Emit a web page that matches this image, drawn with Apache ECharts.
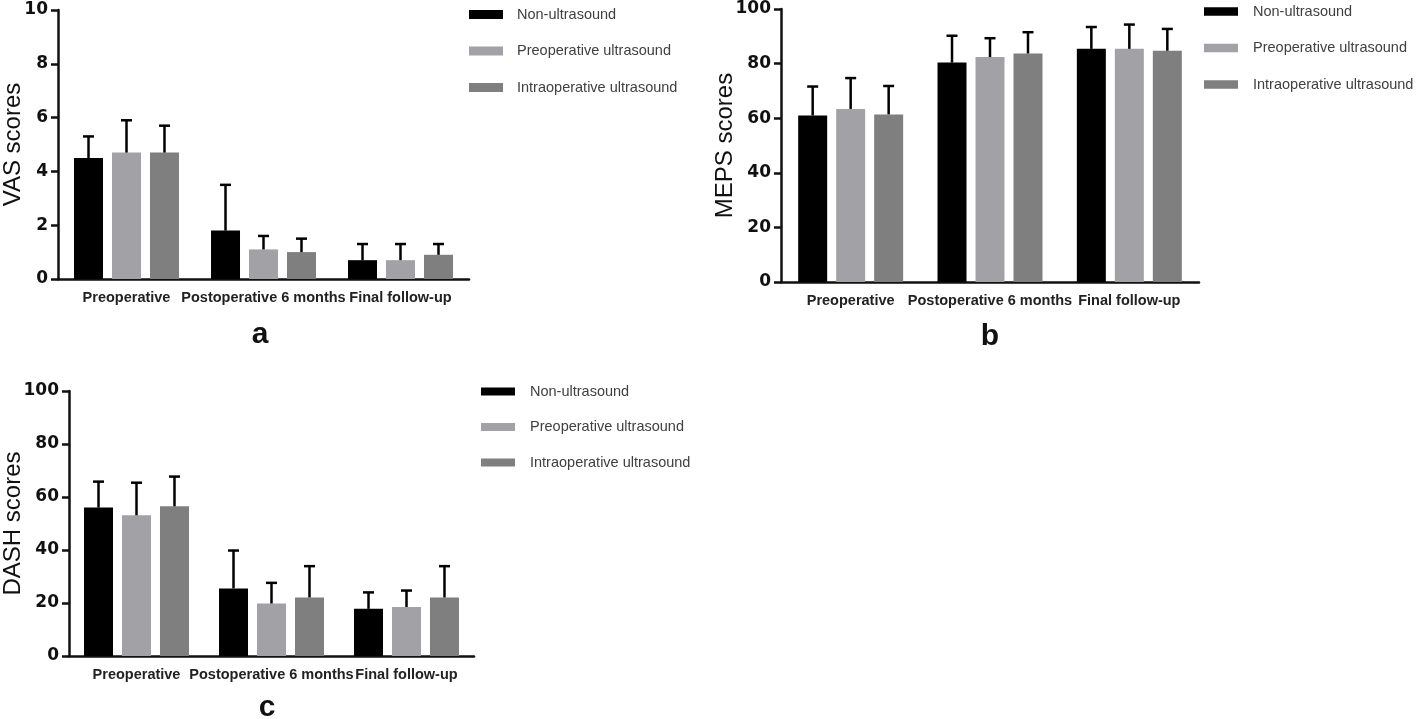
<!DOCTYPE html>
<html>
<head>
<meta charset="utf-8">
<script src="https://cdn.jsdelivr.net/npm/echarts@6/dist/echarts.min.js"></script>
<style>
html,body{margin:0;padding:0;background:#fff;}
#chart{width:1416px;height:719px;}
</style>
</head>
<body>
<div id="chart"></div>
<script>
// ---- data ----
const categories = ['Preoperative', 'Postoperative 6 months', 'Final follow-up'];
const groupNames = ['Non-ultrasound', 'Preoperative ultrasound', 'Intraoperative ultrasound'];

const vasNon = [4.5, 1.8, 0.7];
const vasPre = [4.7, 1.1, 0.7];
const vasIntra = [4.7, 1.0, 0.9];
const vasNonSD = [0.8, 1.7, 0.6];
const vasPreSD = [1.2, 0.5, 0.6];
const vasIntraSD = [1.0, 0.5, 0.4];

const mepsNon = [61.0, 80.4, 85.4];
const mepsPre = [63.4, 82.4, 85.4];
const mepsIntra = [61.4, 83.7, 84.7];
const mepsNonSD = [10.6, 9.8, 8.0];
const mepsPreSD = [11.3, 6.9, 8.9];
const mepsIntraSD = [10.4, 7.8, 8.0];

const dashNon = [56.0, 25.5, 17.8];
const dashPre = [53.1, 19.8, 18.5];
const dashIntra = [56.5, 22.1, 22.1];
const dashNonSD = [9.8, 14.3, 6.2];
const dashPreSD = [12.3, 7.8, 6.2];
const dashIntraSD = [11.2, 11.8, 11.8];

const vasTicks = [0, 2, 4, 6, 8, 10];
const mepsTicks = [0, 20, 40, 60, 80, 100];
const dashTicks = [0, 20, 40, 60, 80, 100];

// ---- styling ----
const colors = ['#000000', '#a2a2a6', '#7f7f7f'];
const BW = 29, GAP = 0.31;

const chart = echarts.init(document.getElementById('chart'));

function errRender(idx) {
  return function (params, api) {
    const cat = api.value(0), mean = api.value(1), sd = api.value(2);
    const base = api.coord([cat, mean]);
    const top = api.coord([cat, mean + sd]);
    const off = (idx - 1) * BW * (1 + GAP);
    const x = base[0] + off;
    const st = { stroke: '#000', lineWidth: 2.5 };
    return {
      type: 'group',
      children: [
        { type: 'line', shape: { x1: x, y1: base[1], x2: x, y2: top[1] }, style: st },
        { type: 'line', shape: { x1: x - 5.5, y1: top[1], x2: x + 5.5, y2: top[1] }, style: st }
      ]
    };
  };
}

const panels = [
  { means: [vasNon, vasPre, vasIntra], sds: [vasNonSD, vasPreSD, vasIntraSD], ticks: vasTicks, name: 'VAS scores', nameGap: 33 },
  { means: [mepsNon, mepsPre, mepsIntra], sds: [mepsNonSD, mepsPreSD, mepsIntraSD], ticks: mepsTicks, name: 'MEPS scores', nameGap: 44 },
  { means: [dashNon, dashPre, dashIntra], sds: [dashNonSD, dashPreSD, dashIntraSD], ticks: dashTicks, name: 'DASH scores', nameGap: 44 }
];

const grids = [
  { left: 56, top: 10, width: 413, height: 269 },
  { left: 781, top: 9, width: 418, height: 273 },
  { left: 69, top: 391, width: 405, height: 265 }
];

const axisLineStyle = { color: '#111', width: 2.5 };

const xAxes = [], yAxes = [], series = [];
panels.forEach((p, gi) => {
  xAxes.push({
    type: 'category', gridIndex: gi, data: categories,
    axisLine: { lineStyle: axisLineStyle },
    axisTick: { alignWithLabel: true, length: 6, lineStyle: { width: 2.5, color: '#111' } },
    axisLabel: { interval: 0, margin: 11, fontFamily: 'Liberation Sans', fontWeight: 'bold', fontSize: 14.5, color: '#222' },
    splitLine: { show: false }
  });
  const t = p.ticks;
  yAxes.push({
    type: 'value', gridIndex: gi, min: t[0], max: t[t.length - 1], interval: t[1] - t[0],
    name: p.name, nameLocation: 'middle', nameGap: p.nameGap, nameMoveOverlap: false,
    nameTextStyle: { fontFamily: 'Liberation Sans', fontSize: 24, color: '#111' },
    axisLine: { show: true, lineStyle: axisLineStyle },
    axisTick: { show: true, length: 7, lineStyle: { width: 2.5, color: '#111' } },
    axisLabel: { margin: 10, fontFamily: 'DejaVu Sans', fontWeight: 'bold', fontSize: 17, color: '#111' },
    splitLine: { show: false }
  });
  groupNames.forEach((nm, si) => {
    series.push({
      type: 'bar', name: nm, xAxisIndex: gi, yAxisIndex: gi,
      data: p.means[si], barWidth: BW, barGap: (GAP * 100) + '%',
      itemStyle: { color: colors[si] }, z: 2
    });
    series.push({
      type: 'custom', name: nm + ' SD', xAxisIndex: gi, yAxisIndex: gi,
      renderItem: errRender(si),
      data: p.means[si].map((m, ci) => [ci, m, p.sds[si][ci]]),
      encode: { x: 0, y: 1 }, z: 3, silent: true
    });
  });
});

const legendBase = {
  orient: 'vertical', data: groupNames, icon: 'rect', itemWidth: 34, itemHeight: 9,
  padding: 0, selectedMode: false,
  textStyle: { fontFamily: 'Liberation Sans', fontSize: 14.5, color: '#404040', padding: [0, 0, 0, 9] }
};

chart.setOption({
  backgroundColor: '#fff',
  animation: false,
  grid: grids,
  xAxis: xAxes,
  yAxis: yAxes,
  series: series,
  legend: [
    Object.assign({}, legendBase, { left: 469, top: 7, itemGap: 21.5 }),
    Object.assign({}, legendBase, { left: 1204, top: 4, itemGap: 21.5, itemHeight: 8.5, textStyle: Object.assign({}, legendBase.textStyle, { padding: [0, 0, 0, 10] }) }),
    Object.assign({}, legendBase, { left: 481, top: 384, itemGap: 20.5, itemHeight: 8, textStyle: Object.assign({}, legendBase.textStyle, { padding: [0, 0, 0, 10] }) })
  ],
  graphic: [
    { type: 'text', x: 260, y: 350, style: { text: 'a', font: 'bold 30px "Liberation Sans"', fill: '#111', textAlign: 'center', textVerticalAlign: 'bottom' } },
    { type: 'text', x: 990, y: 352, style: { text: 'b', font: 'bold 30px "Liberation Sans"', fill: '#111', textAlign: 'center', textVerticalAlign: 'bottom' } },
    { type: 'text', x: 267, y: 723, style: { text: 'c', font: 'bold 30px "Liberation Sans"', fill: '#111', textAlign: 'center', textVerticalAlign: 'bottom' } }
  ]
});
</script>
</body>
</html>
